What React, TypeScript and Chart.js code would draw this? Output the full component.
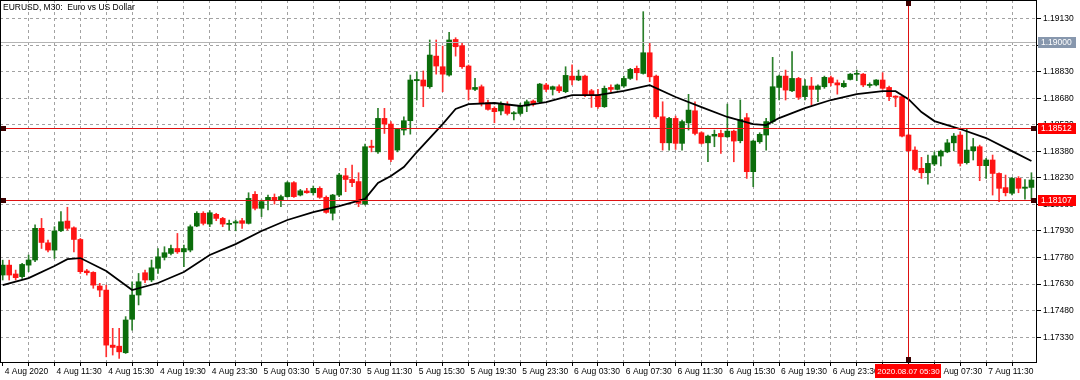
import React, { useEffect, useRef } from "react";
import { Chart, registerables } from "chart.js";

Chart.register(...registerables);

const TITLE = "EURUSD, M30:  Euro vs US Dollar";

const opens = [
  1.17681, 1.17737, 1.17687, 1.17672, 1.17737, 1.17766, 1.17945, 1.17863, 1.17822, 1.17931,
  1.17986, 1.17948, 1.17882, 1.17704, 1.17696, 1.17619, 1.17596, 1.17285, 1.17279, 1.17242,
  1.17431, 1.17568, 1.17694, 1.17653, 1.17719, 1.17781, 1.17803, 1.17831, 1.17812, 1.17822,
  1.17958, 1.18030, 1.17969, 1.18024, 1.18001, 1.17967, 1.17975, 1.17988, 1.17973, 1.18137,
  1.18058, 1.18101, 1.18120, 1.18105, 1.18124, 1.18203, 1.18133, 1.18156, 1.18146, 1.18171,
  1.18120, 1.18030, 1.18133, 1.18242, 1.18221, 1.18209, 1.18082, 1.18409, 1.18377, 1.18566,
  1.18534, 1.18387, 1.18500, 1.18553, 1.18779, 1.18783, 1.18745, 1.18918, 1.18858, 1.18811,
  1.19012, 1.18977, 1.18862, 1.18730, 1.18745, 1.18655, 1.18623, 1.18608, 1.18645, 1.18592,
  1.18594, 1.18636, 1.18664, 1.18660, 1.18755, 1.18730, 1.18745, 1.18717, 1.18805, 1.18783,
  1.18805, 1.18722, 1.18698, 1.18632, 1.18741, 1.18730, 1.18749, 1.18792, 1.18849, 1.18820,
  1.18937, 1.18805, 1.18575, 1.18428, 1.18566, 1.18425, 1.18541, 1.18609, 1.18485, 1.18428,
  1.18466, 1.18481, 1.18462, 1.18494, 1.18440, 1.18570, 1.18265, 1.18434, 1.18472, 1.18548,
  1.18741, 1.18805, 1.18722, 1.18792, 1.18689, 1.18749, 1.18730, 1.18745, 1.18796, 1.18767,
  1.18745, 1.18786, 1.18815, 1.18816, 1.18752, 1.18755, 1.18783, 1.18741, 1.18692, 1.18689,
  1.18472, 1.18387, 1.18284, 1.18259, 1.18308, 1.18353, 1.18377, 1.18428, 1.18472, 1.18316,
  1.18383, 1.18406, 1.18299, 1.18331, 1.18255, 1.18175, 1.18143, 1.18227, 1.18171, 1.18176,
];
const highs = [
  1.17765, 1.17765, 1.17709, 1.17747, 1.17794, 1.17964, 1.18001, 1.17878, 1.17954, 1.18039,
  1.18064, 1.17954, 1.17888, 1.17713, 1.17700, 1.17634, 1.17624, 1.17380, 1.17380, 1.17446,
  1.17643, 1.17690, 1.17709, 1.17766, 1.17831, 1.17841, 1.17850, 1.17916, 1.17850, 1.17964,
  1.18039, 1.18039, 1.18045, 1.18030, 1.18007, 1.17992, 1.17992, 1.18001, 1.18146, 1.18152,
  1.18105, 1.18133, 1.18139, 1.18133, 1.18209, 1.18209, 1.18165, 1.18171, 1.18184, 1.18180,
  1.18128, 1.18137, 1.18255, 1.18284, 1.18302, 1.18259, 1.18421, 1.18443, 1.18623, 1.18623,
  1.18548, 1.18510, 1.18575, 1.18811, 1.18830, 1.18834, 1.19009, 1.19009, 1.18975, 1.19052,
  1.19022, 1.18990, 1.18868, 1.18792, 1.18755, 1.18670, 1.18632, 1.18660, 1.18660, 1.18604,
  1.18651, 1.18670, 1.18670, 1.18764, 1.18764, 1.18749, 1.18755, 1.18858, 1.18868, 1.18839,
  1.18811, 1.18730, 1.18730, 1.18749, 1.18755, 1.18760, 1.18805, 1.18849, 1.18862, 1.19169,
  1.18990, 1.18811, 1.18660, 1.18572, 1.18579, 1.18557, 1.18702, 1.18660, 1.18491, 1.18472,
  1.18500, 1.18500, 1.18647, 1.18500, 1.18670, 1.18594, 1.18443, 1.18485, 1.18566, 1.18911,
  1.18811, 1.18839, 1.18943, 1.18798, 1.18786, 1.18798, 1.18755, 1.18805, 1.18805, 1.18783,
  1.18779, 1.18820, 1.18839, 1.18820, 1.18767, 1.18786, 1.18824, 1.18749, 1.18694, 1.18692,
  1.18477, 1.18406, 1.18346, 1.18359, 1.18377, 1.18387, 1.18447, 1.18481, 1.18491, 1.18510,
  1.18453, 1.18415, 1.18340, 1.18359, 1.18259, 1.18246, 1.18233, 1.18237, 1.18221, 1.18259,
];
const lows = [
  1.17653, 1.17653, 1.17653, 1.17662, 1.17700, 1.17756, 1.17831, 1.17812, 1.17775, 1.17926,
  1.17935, 1.17812, 1.17690, 1.17681, 1.17606, 1.17559, 1.17219, 1.17229, 1.17210, 1.17238,
  1.17370, 1.17512, 1.17638, 1.17643, 1.17690, 1.17766, 1.17794, 1.17803, 1.17728, 1.17812,
  1.17954, 1.17964, 1.17954, 1.17988, 1.17954, 1.17935, 1.17931, 1.17945, 1.17969, 1.18049,
  1.18011, 1.18049, 1.18082, 1.18067, 1.18120, 1.18120, 1.18128, 1.18143, 1.18133, 1.18114,
  1.18030, 1.17992, 1.18124, 1.18152, 1.18180, 1.18067, 1.18077, 1.18377, 1.18368, 1.18481,
  1.18321, 1.18377, 1.18472, 1.18477, 1.18670, 1.18632, 1.18736, 1.18816, 1.18717, 1.18805,
  1.18918, 1.18849, 1.18670, 1.18722, 1.18636, 1.18613, 1.18541, 1.18585, 1.18585, 1.18557,
  1.18585, 1.18604, 1.18636, 1.18654, 1.18717, 1.18698, 1.18711, 1.18711, 1.18755, 1.18779,
  1.18689, 1.18628, 1.18623, 1.18628, 1.18717, 1.18726, 1.18741, 1.18786, 1.18783, 1.18816,
  1.18773, 1.18566, 1.18387, 1.18387, 1.18391, 1.18387, 1.18500, 1.18472, 1.18421, 1.18321,
  1.18406, 1.18368, 1.18458, 1.18321, 1.18428, 1.18227, 1.18180, 1.18425, 1.18387, 1.18538,
  1.18670, 1.18670, 1.18717, 1.18673, 1.18670, 1.18641, 1.18660, 1.18736, 1.18749, 1.18703,
  1.18741, 1.18783, 1.18779, 1.18745, 1.18741, 1.18749, 1.18730, 1.18666, 1.18632, 1.18462,
  1.18377, 1.18270, 1.18227, 1.18195, 1.18299, 1.18297, 1.18372, 1.18383, 1.18297, 1.18308,
  1.18331, 1.18214, 1.18227, 1.18133, 1.18096, 1.18128, 1.18133, 1.18146, 1.18109, 1.18109,
];
const closes = [
  1.17737, 1.17681, 1.17666, 1.17741, 1.17766, 1.17945, 1.17865, 1.17822, 1.17930, 1.17982,
  1.17945, 1.17882, 1.17700, 1.17694, 1.17624, 1.17596, 1.17285, 1.17272, 1.17247, 1.17427,
  1.17568, 1.17643, 1.17653, 1.17722, 1.17784, 1.17807, 1.17831, 1.17812, 1.17831, 1.17954,
  1.18030, 1.17973, 1.18033, 1.18001, 1.17969, 1.17973, 1.17982, 1.17973, 1.18114, 1.18058,
  1.18096, 1.18120, 1.18101, 1.18124, 1.18203, 1.18124, 1.18157, 1.18146, 1.18171, 1.18120,
  1.18035, 1.18133, 1.18246, 1.18221, 1.18203, 1.18086, 1.18406, 1.18402, 1.18566, 1.18534,
  1.18334, 1.18504, 1.18553, 1.18783, 1.18786, 1.18749, 1.18924, 1.18862, 1.18816, 1.19009,
  1.18971, 1.18858, 1.18730, 1.18741, 1.18651, 1.18617, 1.18604, 1.18645, 1.18594, 1.18598,
  1.18636, 1.18660, 1.18647, 1.18760, 1.18730, 1.18745, 1.18722, 1.18809, 1.18783, 1.18805,
  1.18698, 1.18698, 1.18632, 1.18736, 1.18730, 1.18755, 1.18792, 1.18843, 1.18824, 1.18937,
  1.18801, 1.18575, 1.18428, 1.18566, 1.18425, 1.18548, 1.18613, 1.18481, 1.18425, 1.18466,
  1.18476, 1.18462, 1.18494, 1.18438, 1.18560, 1.18265, 1.18438, 1.18476, 1.18548, 1.18745,
  1.18805, 1.18726, 1.18792, 1.18685, 1.18749, 1.18730, 1.18749, 1.18798, 1.18767, 1.18755,
  1.18764, 1.18816, 1.18820, 1.18755, 1.18758, 1.18783, 1.18736, 1.18689, 1.18685, 1.18466,
  1.18383, 1.18278, 1.18259, 1.18312, 1.18355, 1.18381, 1.18428, 1.18466, 1.18312, 1.18387,
  1.18406, 1.18299, 1.18331, 1.18255, 1.18171, 1.18146, 1.18227, 1.18171, 1.18178, 1.18218,
];

const maIndex = [
  0, 4, 8, 10, 12, 16, 20, 24, 28, 32, 36, 40, 44, 48, 52, 56, 58, 60, 62, 64, 68, 70, 72, 76,
  80, 84, 88, 92, 96, 100, 104, 108, 112, 116, 118, 120, 124, 128, 132, 136, 138, 140, 142, 144,
  148, 152, 156, 159,
];
const maValues = [
  1.17624, 1.17664, 1.17732, 1.17771, 1.17777, 1.17704, 1.17596, 1.17636, 1.17698, 1.17794,
  1.17856, 1.1793, 1.17992, 1.18037, 1.18071, 1.18111, 1.18201, 1.1824, 1.18291, 1.18376,
  1.18534, 1.18619, 1.18647, 1.18653, 1.18636, 1.18658, 1.18698, 1.18698, 1.18721, 1.18754,
  1.18687, 1.1863, 1.18574, 1.18534, 1.18528, 1.18568, 1.18624, 1.1867, 1.18703, 1.1872,
  1.1872, 1.18675, 1.18602, 1.18551, 1.18506, 1.18455, 1.18381, 1.18325,
];

const xLabelIndex = [0, 8, 16, 24, 32, 40, 48, 56, 64, 72, 80, 88, 96, 104, 112, 120, 128, 136, 144, 152];
const xLabels = [
  "4 Aug 2020", "4 Aug 11:30", "4 Aug 15:30", "4 Aug 19:30", "4 Aug 23:30",
  "5 Aug 03:30", "5 Aug 07:30", "5 Aug 11:30", "5 Aug 15:30", "5 Aug 19:30",
  "5 Aug 23:30", "6 Aug 03:30", "6 Aug 07:30", "6 Aug 11:30", "6 Aug 15:30",
  "6 Aug 19:30", "6 Aug 23:30", "7 Aug 03:30", "7 Aug 07:30", "7 Aug 11:30",
];
const xGridIndex = [
  0, 4, 8, 12, 16, 20, 24, 28, 32, 36, 40, 44, 48, 52, 56, 60, 64, 68, 72, 76, 80, 84, 88, 92,
  96, 100, 104, 108, 112, 116, 120, 124, 128, 132, 136, 140, 144, 148, 152, 156,
];
const yTicks = [
  1.1733, 1.1748, 1.1763, 1.1778, 1.1793, 1.1808, 1.1823, 1.1838, 1.1853, 1.1868, 1.1883,
  1.1898, 1.1913,
];

const grayLevel = 1.19;
const redLevels = [1.18512, 1.18107];
const crossIndex = 140;
const crossLabel = "2020.08.07 05:30";

const X_MIN = -0.42;
const X_MAX = 159.86;
const Y_MIN = 1.17184;
const Y_MAX = 1.19235;

const FONT_FAMILY = "'Liberation Sans', Arial, sans-serif";
const FONT_SIZE = 8.5;
const BULL = "#0b6d0b";
const BEAR = "#ff1414";
const BULL_WICK = "#2a7f2a";
const BEAR_WICK = "#ff3030";
const GRID = "#a2a2a2";
const RED_LINE = "#dd1111";

export default function App() {
  const ref = useRef<HTMLCanvasElement | null>(null);

  useEffect(() => {
    document.body.style.margin = "0";
    const canvas = ref.current;
    if (!canvas) return;
    const idx = opens.map((_, i) => i);
    const isBull = (i: number) => closes[i] >= opens[i];
    const font = `${FONT_SIZE}px ${FONT_FAMILY}`;

    const overlay = {
      id: "mtOverlay",
      afterDatasetsDraw(chart: any) {
        const { ctx, chartArea: a, scales } = chart;
        const ys = scales.y;
        const xs = scales.x;
        ctx.save();
        ctx.setLineDash([]);
        ctx.lineWidth = 1;
        const gy = Math.round(ys.getPixelForValue(grayLevel)) + 0.5;
        ctx.strokeStyle = "#b4b4b4";
        ctx.beginPath();
        ctx.moveTo(a.left, gy);
        ctx.lineTo(a.right, gy);
        ctx.stroke();
        ctx.strokeStyle = RED_LINE;
        redLevels.forEach((v) => {
          const y = Math.round(ys.getPixelForValue(v)) + 0.5;
          ctx.beginPath();
          ctx.moveTo(a.left, y);
          ctx.lineTo(a.right, y);
          ctx.stroke();
        });
        const vx = Math.floor(xs.getPixelForValue(crossIndex)) + 0.5;
        ctx.strokeStyle = RED_LINE;
        ctx.beginPath();
        ctx.moveTo(vx, a.top);
        ctx.lineTo(vx, a.bottom);
        ctx.stroke();
        ctx.fillStyle = "#3a0000";
        redLevels.forEach((v) => {
          const y = Math.round(ys.getPixelForValue(v));
          ctx.fillRect(a.left + 1, y - 2, 5, 5);
          ctx.fillRect(a.right - 6, y - 2, 5, 5);
        });
        ctx.fillRect(vx - 2.5, a.top + 1, 5, 5);
        ctx.fillRect(vx - 2.5, a.bottom - 6, 5, 5);
        ctx.restore();
      },
      afterDraw(chart: any) {
        const { ctx, chartArea: a, scales } = chart;
        const ys = scales.y;
        const xs = scales.x;
        ctx.save();
        ctx.setLineDash([]);
        ctx.strokeStyle = "#000";
        ctx.lineWidth = 1;
        ctx.strokeRect(a.left + 0.5, a.top + 0.5, a.right - a.left - 1, a.bottom - a.top - 1);
        ctx.font = font;
        ctx.textBaseline = "middle";
        ctx.textAlign = "left";
        ctx.fillStyle = "#000";
        ctx.fillText(TITLE, a.left + 3, a.top + 8);
        const box = (v: number, bg: string) => {
          const y = Math.round(ys.getPixelForValue(v));
          ctx.fillStyle = bg;
          ctx.fillRect(a.right + 1, y - 5, 38, 11);
          ctx.fillStyle = "#fff";
          ctx.fillText(v.toFixed(5), a.right + 4, y + 0.5);
        };
        box(grayLevel, "#8797ad");
        redLevels.forEach((v) => box(v, "#ff0000"));
        const vx = Math.floor(xs.getPixelForValue(crossIndex)) + 0.5;
        ctx.font = `8px ${FONT_FAMILY}`;
        const w = ctx.measureText(crossLabel).width + 4;
        ctx.fillStyle = "#ff0000";
        ctx.fillRect(Math.round(vx - w / 2), a.bottom + 1, Math.round(w), 14);
        ctx.fillStyle = "#fff";
        ctx.textAlign = "center";
        ctx.fillText(crossLabel, vx, a.bottom + 8.5);
        ctx.restore();
      },
    };

    const chart = new Chart(canvas, {
      type: "bar",
      data: {
        datasets: [
          {
            type: "line",
            data: maIndex.map((k, i) => ({ x: k, y: maValues[i] })),
            borderColor: "#000",
            borderWidth: 1.8,
            pointRadius: 0,
            tension: 0,
            order: 0,
          } as any,
          {
            type: "bar",
            data: idx.map((i) => ({ x: i, y: [opens[i], closes[i]] })),
            backgroundColor: (c: any) => (isBull(c.dataIndex) ? BULL : BEAR),
            borderWidth: 0,
            barThickness: 5,
            minBarLength: 1,
            grouped: false,
            order: 1,
          } as any,
          {
            type: "bar",
            data: idx.map((i) => ({ x: i, y: [lows[i], highs[i]] })),
            backgroundColor: (c: any) => (isBull(c.dataIndex) ? BULL_WICK : BEAR_WICK),
            borderWidth: 0,
            barThickness: 1,
            grouped: false,
            order: 2,
          } as any,
        ],
      },
      options: {
        responsive: false,
        animation: false,
        devicePixelRatio: 1,
        events: [],
        layout: { padding: 0 },
        plugins: { legend: { display: false }, tooltip: { enabled: false } },
        scales: {
          x: {
            type: "linear",
            min: X_MIN,
            max: X_MAX,
            offset: false,
            afterBuildTicks: (s: any) => {
              s.ticks = xGridIndex.map((v) => ({ value: v }));
            },
            afterFit: (s: any) => {
              s.height = 17;
              s.paddingLeft = 0;
              s.paddingRight = 0;
            },
            grid: {
              offset: false,
              color: (c: any) =>
                c.tick && (c.tick.value === 0 || c.tick.value === crossIndex) ? "rgba(0,0,0,0)" : GRID,
              tickColor: "#000",
              tickLength: 3,
              lineWidth: 1,
            },
            border: { display: false, dash: [3, 3] },
            ticks: {
              autoSkip: false,
              maxRotation: 0,
              minRotation: 0,
              align: "start",
              labelOffset: 2,
              padding: 1,
              color: "#000",
              font: { family: FONT_FAMILY, size: FONT_SIZE },
              callback: (v: any) => {
                const j = xLabelIndex.indexOf(Number(v));
                return j >= 0 ? xLabels[j] : "";
              },
            },
          },
          y: {
            type: "linear",
            position: "right",
            min: Y_MIN,
            max: Y_MAX,
            afterBuildTicks: (s: any) => {
              s.ticks = yTicks.map((v) => ({ value: v }));
            },
            afterFit: (s: any) => {
              s.width = 43;
              s.paddingTop = 0;
              s.paddingBottom = 0;
            },
            grid: {
              color: GRID,
              tickColor: "#000",
              tickLength: 4,
              lineWidth: 1,
            },
            border: { display: false, dash: [3, 3] },
            ticks: {
              padding: 2,
              color: "#000",
              font: { family: FONT_FAMILY, size: FONT_SIZE },
              callback: (v: any) => Number(v).toFixed(5),
            },
          },
        },
      } as any,
      plugins: [overlay],
    } as any);

    return () => chart.destroy();
  }, []);

  return (
    <div style={{ position: "fixed", left: 0, top: 0, width: 1080, height: 380, background: "#fff" }}>
      <canvas ref={ref} width={1080} height={380} style={{ display: "block", width: 1080, height: 380 }} />
    </div>
  );
}
